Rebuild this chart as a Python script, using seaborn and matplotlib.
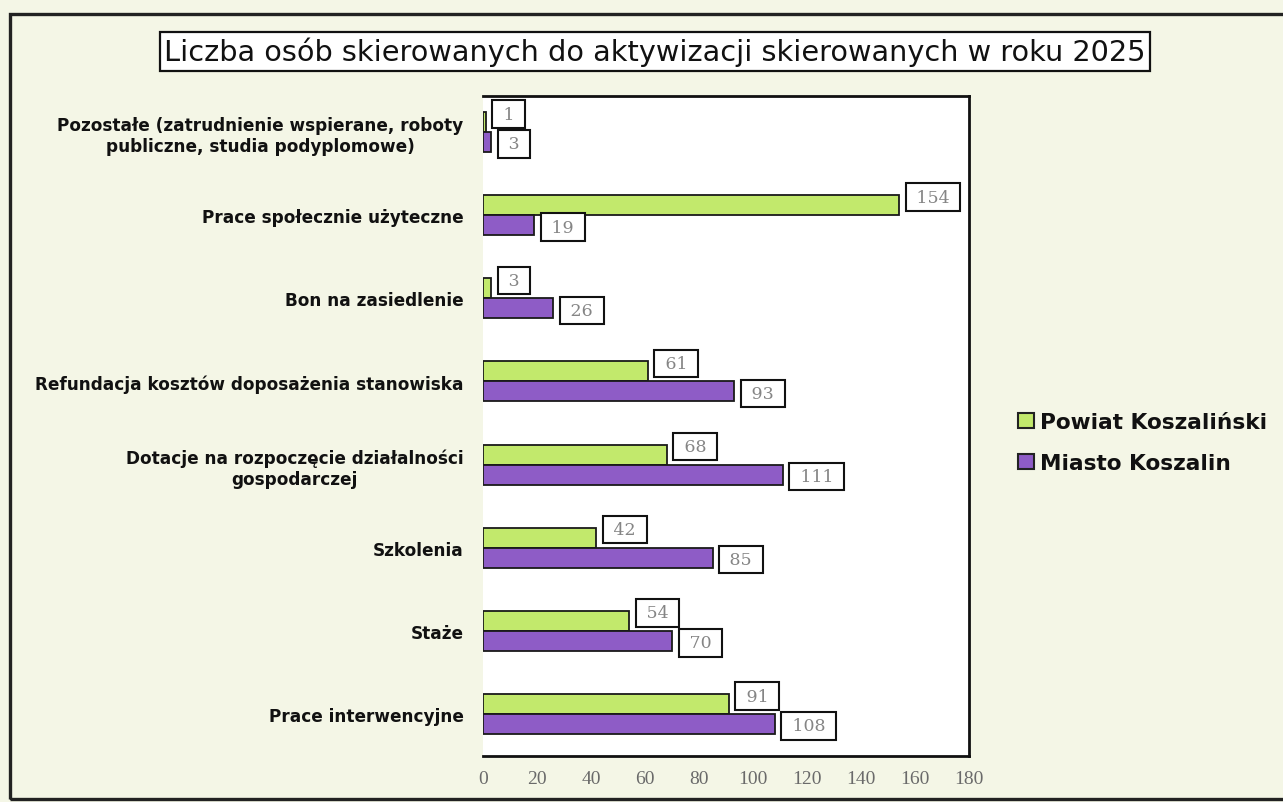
import matplotlib
matplotlib.use("Agg")
import matplotlib.pyplot as plt
import seaborn as sns
import pandas as pd
from matplotlib.patches import Rectangle, Patch

categories = [
    "Pozostałe (zatrudnienie wspierane, roboty\npubliczne, studia podyplomowe)",
    "Prace społecznie użyteczne",
    "Bon na zasiedlenie",
    "Refundacja kosztów doposażenia stanowiska",
    "Dotacje na rozpoczęcie działalności\ngospodarczej",
    "Szkolenia",
    "Staże",
    "Prace interwencyjne",
]
series_names = ["Powiat Koszaliński", "Miasto Koszalin"]
powiat = [1, 154, 3, 61, 68, 42, 54, 91]
miasto = [3, 19, 26, 93, 111, 85, 70, 108]
x_ticks = [0, 20, 40, 60, 80, 100, 120, 140, 160, 180]
title = "Liczba osób skierowanych do aktywizacji skierowanych w roku 2025"

df = pd.DataFrame({
    "kategoria": categories * 2,
    "seria": [series_names[0]] * len(categories) + [series_names[1]] * len(categories),
    "wartosc": powiat + miasto,
})

W, H = 1283, 803
BG = "#f4f6e6"
colors = {series_names[0]: "#c2e96c", series_names[1]: "#8e5cc6"}

sns.set_theme(style="white")
plt.rcParams["font.family"] = ["DejaVu Sans"]

fig = plt.figure(figsize=(W / 100, H / 100), dpi=100, facecolor=BG)
ax_left, ax_right, ax_top, ax_bot = 483, 969, 97, 757
ax = fig.add_axes([ax_left / W, 1 - ax_bot / H, (ax_right - ax_left) / W, (ax_bot - ax_top) / H])
ax.set_facecolor("white")

sns.barplot(data=df, y="kategoria", x="wartosc", hue="seria", order=categories,
            hue_order=series_names, palette=colors, orient="h", width=0.48,
            saturation=1, edgecolor="#1a1a1a", linewidth=1.3, ax=ax, legend=False,
            errorbar=None)

ax.set_xlim(0, 180)
ax.set_ylim(7.505, -0.433)
ax.set_xticks(x_ticks)
ax.set_xticklabels([str(t) for t in x_ticks], family=["Liberation Serif"], fontsize=14, color="#6a6a6a")
ax.set_xlabel("")
ax.set_ylabel("")
ax.tick_params(axis="x", length=0, pad=10)
ax.tick_params(axis="y", length=0, pad=14)
for lbl in ax.get_yticklabels():
    lbl.set_fontweight("bold")
    lbl.set_fontsize(12.2)
    lbl.set_multialignment("center")
    lbl.set_color("#111111")

for side in ["top", "right", "bottom"]:
    ax.spines[side].set_visible(True)
    ax.spines[side].set_color("#111111")
    ax.spines[side].set_linewidth(2)
ax.spines["left"].set_visible(False)

# value labels
for ci, container in enumerate(ax.containers):
    dy = 8 if ci == 0 else -2
    for bar, val in zip(container, powiat if ci == 0 else miasto):
        yc = bar.get_y() + bar.get_height() / 2
        ax.annotate(" " + str(val) + " ", xy=(bar.get_width(), yc), xytext=(12, dy),
                    textcoords="offset pixels", ha="left", va="center",
                    family=["DejaVu Serif"], fontsize=12.5, color="#858585",
                    bbox=dict(boxstyle="square,pad=0.3", facecolor="white",
                              edgecolor="#111111", linewidth=1.5))

# title box
fig.text(655 / W, 1 - 52.5 / H, title, ha="center", va="center", fontsize=20.7,
         color="#111111",
         bbox=dict(boxstyle="square,pad=0.16", facecolor="white", edgecolor="#111111", linewidth=1.6))

# legend
handles = [Patch(facecolor=colors[s], edgecolor="#222222", linewidth=1.5, label=s) for s in series_names]
leg = fig.legend(handles=handles, loc="center left", bbox_to_anchor=(999 / W, 1 - 443.5 / H),
                 frameon=False, prop=dict(weight="bold", size=15.6), handlelength=0.7,
                 handleheight=0.7, handletextpad=0.3, labelspacing=1.0)
for t in leg.get_texts():
    t.set_color("#111111")

# outer frame
fig.patches.append(Rectangle((10 / W, 1 - 800 / H), (W + 5 - 10) / W, (800 - 15) / H,
                             transform=fig.transFigure, fill=False, edgecolor="#222222",
                             linewidth=2.4))

fig.savefig("out.png", dpi=100, facecolor=BG)
